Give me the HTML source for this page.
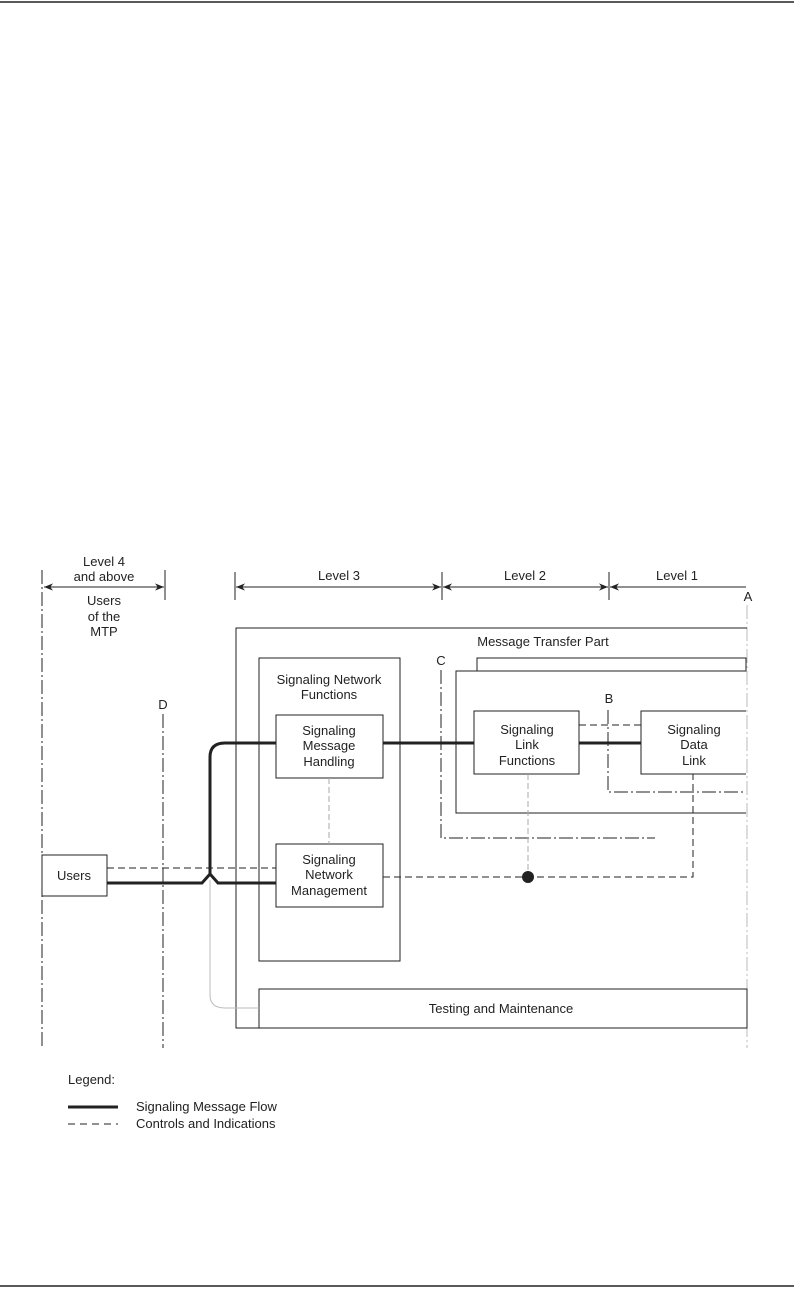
<!DOCTYPE html>
<html><head><style>
html,body{margin:0;padding:0;background:#fff}
svg text{font-family:"Liberation Sans",sans-serif;font-size:13px;fill:#222}
</style></head><body>
<svg width="794" height="1298" viewBox="0 0 794 1298" xmlns="http://www.w3.org/2000/svg">
<defs>
<marker id="ah" viewBox="0 0 10 10" refX="10" refY="5" markerWidth="9" markerHeight="9" orient="auto-start-reverse"><path d="M0,1 L10,5 L0,9 L3,5 z" fill="#222"/></marker>
</defs>
<line x1="0" y1="2" x2="794" y2="2" stroke="#222" stroke-width="1.5"/>
<line x1="0" y1="1286" x2="794" y2="1286" stroke="#222" stroke-width="1.5"/>
<g stroke="#222" stroke-width="1" fill="none">
<!-- level arrows -->
<line x1="165" y1="570" x2="165" y2="600"/>
<line x1="235" y1="572" x2="235" y2="600"/>
<line x1="442" y1="572" x2="442" y2="600"/>
<line x1="609" y1="572" x2="609" y2="600"/>
<line x1="44" y1="587" x2="164" y2="587" marker-start="url(#ah)" marker-end="url(#ah)"/>
<line x1="236" y1="587" x2="441" y2="587" marker-start="url(#ah)" marker-end="url(#ah)"/>
<line x1="443" y1="587" x2="608" y2="587" marker-start="url(#ah)" marker-end="url(#ah)"/>
<line x1="610" y1="587" x2="746" y2="587" marker-start="url(#ah)"/>
<!-- dash-dot verticals -->
<line x1="42" y1="570" x2="42" y2="1048" stroke-dasharray="14,3,2,3"/>
<line x1="163" y1="714" x2="163" y2="1048" stroke-dasharray="14,3,2,3"/>
<line x1="747" y1="605" x2="747" y2="1048" stroke="#bbb" stroke-dasharray="14,3,2,3"/>
<!-- MTP box -->
<polyline points="747,628 236,628 236,1028 747,1028"/>
<rect x="259" y="658" width="141" height="303"/>
<rect x="276" y="715" width="107" height="63" fill="#fff"/>
<rect x="276" y="844" width="107" height="63" fill="#fff"/>
<rect x="477" y="658" width="269" height="13"/>
<polyline points="746,671 456,671 456,813 746,813"/>
<rect x="474" y="711" width="105" height="63"/>
<polyline points="746,711 641,711 641,774 746,774"/>
<rect x="259" y="989" width="488" height="39"/>
<rect x="42" y="855" width="65" height="41"/>
<!-- C and B dash-dot -->
<polyline points="441,670 441,838 655,838" stroke-dasharray="14,3,2,3"/>
<polyline points="608,710 608,792 746,792" stroke-dasharray="14,3,2,3"/>
<!-- dashed controls -->
<line x1="579" y1="725" x2="641" y2="725" stroke-dasharray="7,4"/>
<line x1="107" y1="868" x2="276" y2="868" stroke-dasharray="7,4"/>
<polyline points="383,877 693,877 693,774" stroke-dasharray="7,4"/>
<line x1="329" y1="778" x2="329" y2="844" stroke="#aaa" stroke-dasharray="6,3"/>
<line x1="528" y1="774" x2="528" y2="877" stroke="#aaa" stroke-dasharray="6,3"/>
<path d="M210,880 L210,995 Q210,1008 225,1008 L259,1008" stroke="#bbb"/>
<!-- thick flow -->
<g stroke-width="3">
<polyline points="107,883 202,883 210,874 218,883 276,883"/>
<path d="M210,874 L210,757 Q210,743 225,743 L276,743"/>
<line x1="383" y1="743" x2="474" y2="743"/>
<line x1="579" y1="743" x2="641" y2="743"/>
<line x1="68" y1="1107" x2="118" y2="1107"/>
</g>
<line x1="68" y1="1124" x2="118" y2="1124" stroke-dasharray="7,5"/>
</g>
<circle cx="528" cy="877" r="6" fill="#222"/>
<g text-anchor="middle">
<text x="104" y="566">Level 4</text>
<text x="104" y="581">and above</text>
<text x="104" y="605">Users</text>
<text x="104" y="621">of the</text>
<text x="104" y="636">MTP</text>
<text x="339" y="580">Level 3</text>
<text x="525" y="580">Level 2</text>
<text x="677" y="580">Level 1</text>
<text x="748" y="601">A</text>
<text x="543" y="646">Message Transfer Part</text>
<text x="441" y="665">C</text>
<text x="609" y="703">B</text>
<text x="163" y="709">D</text>
<text x="329" y="684">Signaling Network</text>
<text x="329" y="699">Functions</text>
<text x="329" y="735">Signaling</text>
<text x="329" y="750">Message</text>
<text x="329" y="766">Handling</text>
<text x="329" y="864">Signaling</text>
<text x="329" y="879">Network</text>
<text x="329" y="895">Management</text>
<text x="527" y="734">Signaling</text>
<text x="527" y="749">Link</text>
<text x="527" y="765">Functions</text>
<text x="694" y="734">Signaling</text>
<text x="694" y="749">Data</text>
<text x="694" y="765">Link</text>
<text x="74" y="880">Users</text>
<text x="501" y="1013">Testing and Maintenance</text>
</g>
<text x="68" y="1084">Legend:</text>
<text x="136" y="1111">Signaling Message Flow</text>
<text x="136" y="1128">Controls and Indications</text>
</svg>
</body></html>
